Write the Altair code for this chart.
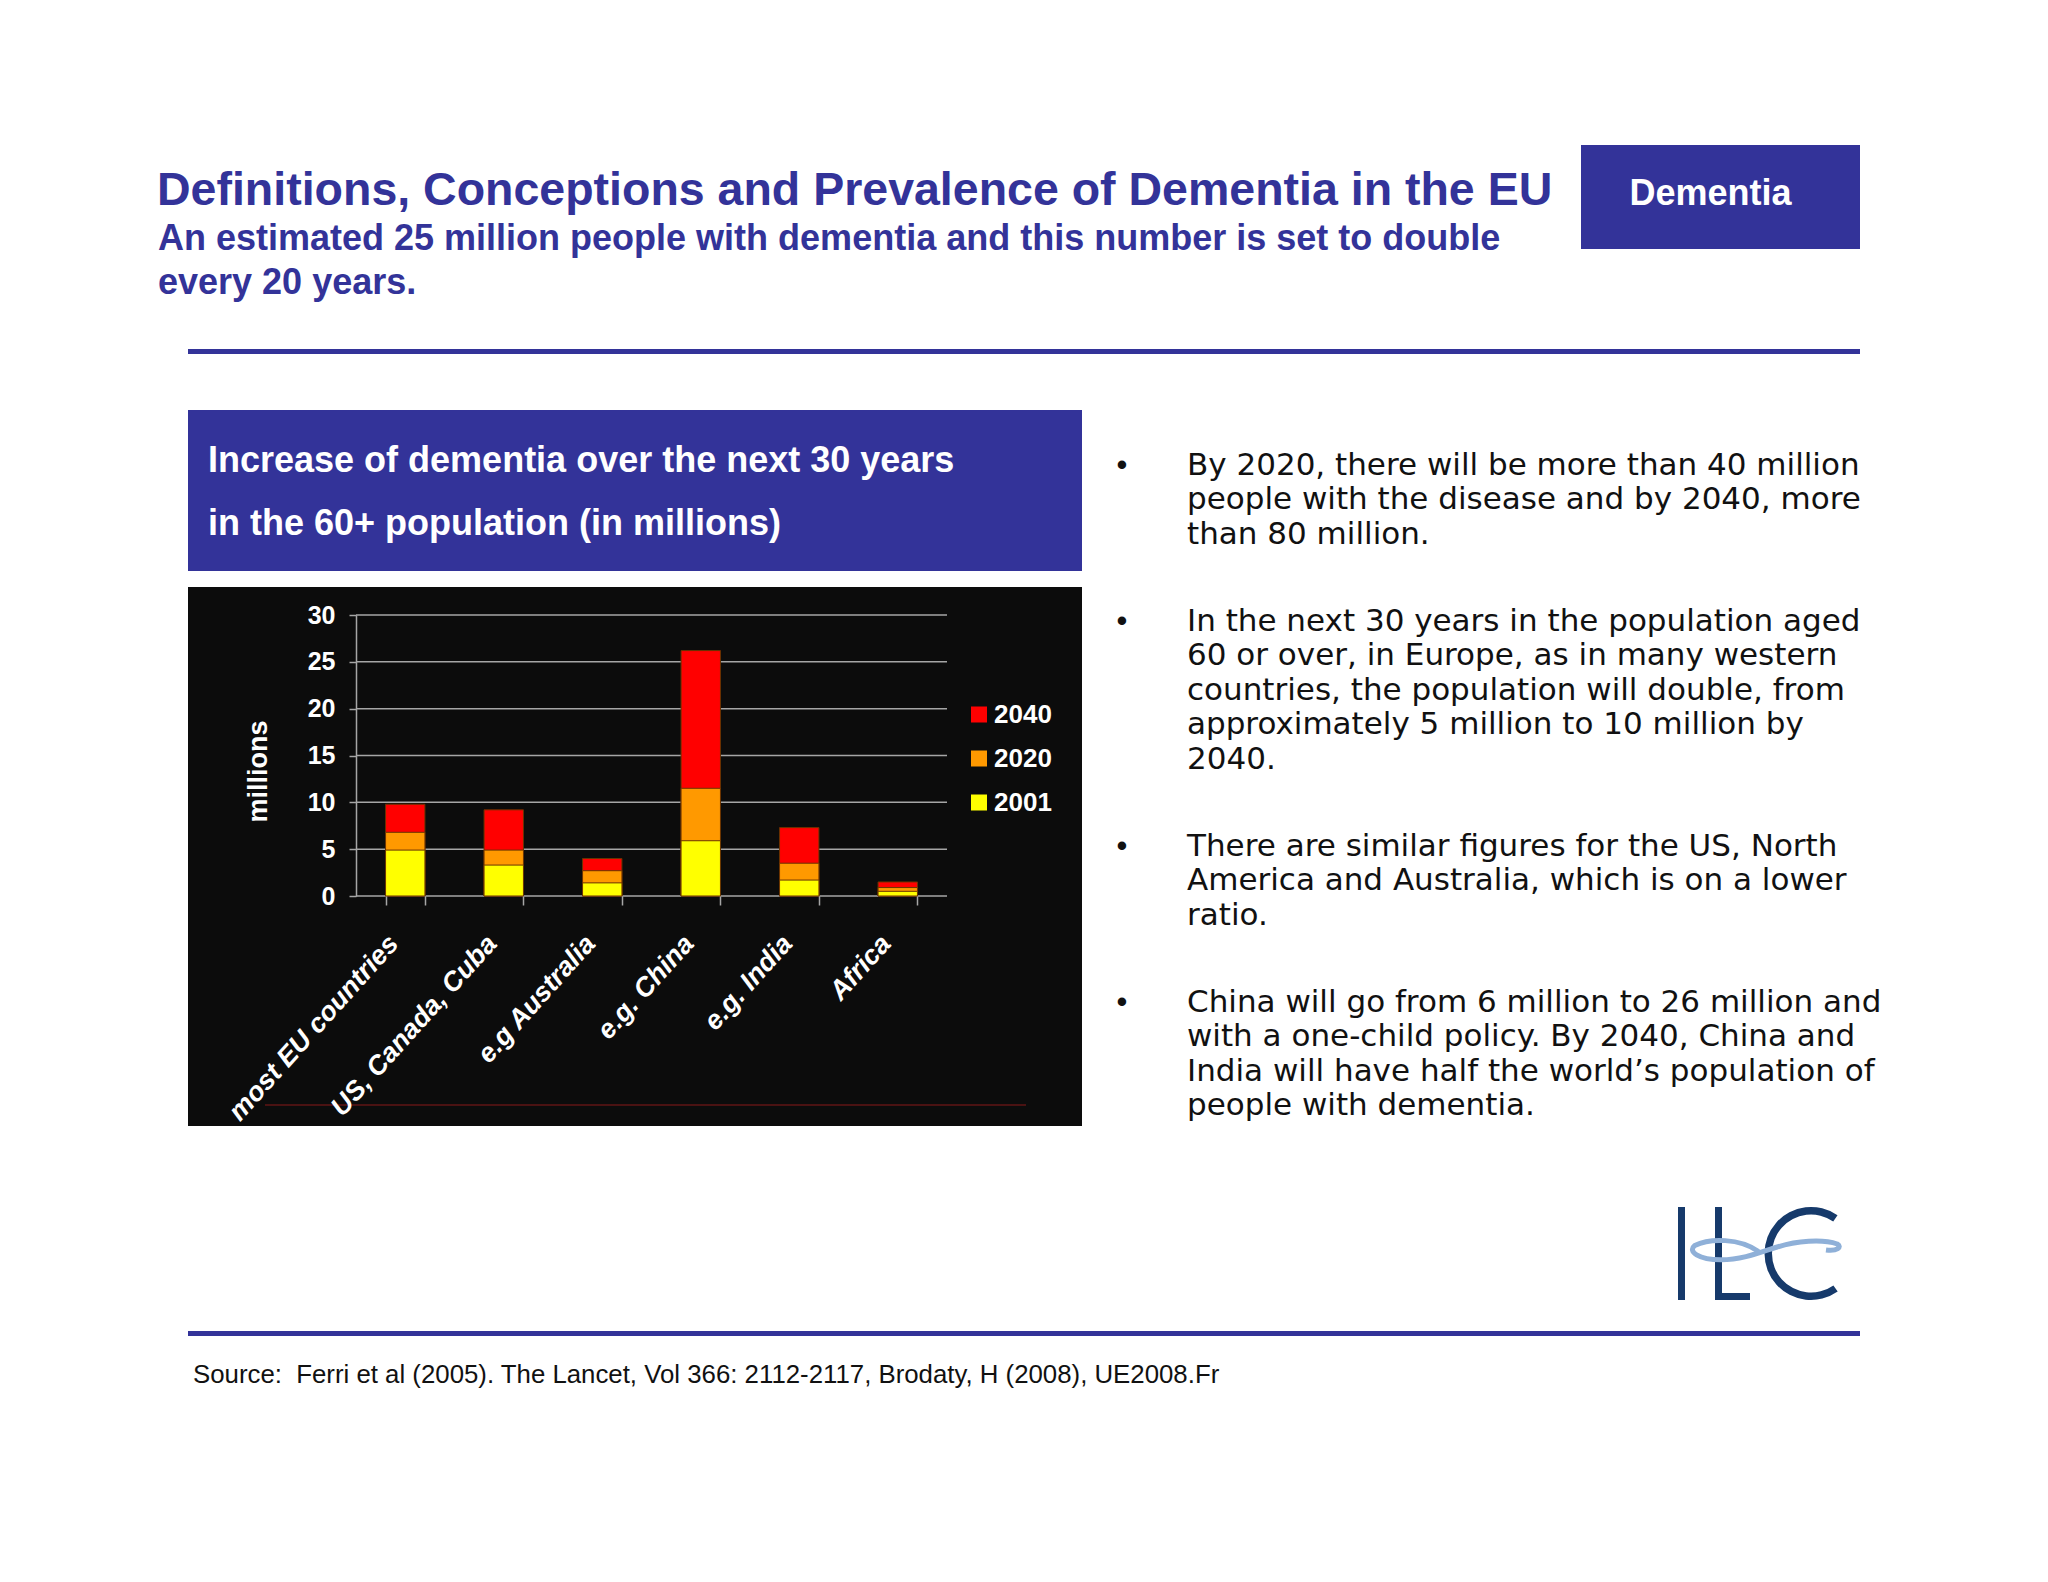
import altair as alt
import pandas as pd

# ---------------- data ----------------
categories = ["most EU countries", "US, Canada, Cuba", "e.g Australia",
              "e.g. China", "e.g. India", "Africa"]
years = ["2040", "2020", "2001"]
v2040 = [9.8, 9.2, 4.0, 26.2, 7.3, 1.5]
v2020 = [6.8, 4.9, 2.7, 11.5, 3.5, 0.9]
v2001 = [4.9, 3.3, 1.4, 5.9, 1.7, 0.5]
year_colors = ["#ff0000", "#ff9900", "#ffff00"]
y_ticks = [0, 5, 10, 15, 20, 25, 30]

title = "Definitions, Conceptions and Prevalence of Dementia in the EU"
subtitle = "An estimated 25 million people with dementia and this number is set to double\nevery 20 years."
box_title = "Increase of dementia over the next 30 years\nin the 60+ population (in millions)"
tag = "Dementia"
bullets = [
    "By 2020, there will be more than 40 million\npeople with the disease and by 2040, more\nthan 80 million.",
    "In the next 30 years in the population aged\n60 or over, in Europe, as in many western\ncountries, the population will double, from\napproximately 5 million to 10 million by\n2040.",
    "There are similar figures for the US, North\nAmerica and Australia, which is on a lower\nratio.",
    "China will go from 6 million to 26 million and\nwith a one-child policy. By 2040, China and\nIndia will have half the world\u2019s population of\npeople with dementia.",
]
source = "Source:\u00a0\u00a0Ferri et al (2005). The Lancet, Vol 366: 2112-2117, Brodaty, H (2008), UE2008.Fr"

rows = []
for yr, vals in zip(years, [v2040, v2020, v2001]):
    for c, v in zip(categories, vals):
        rows.append({"category": c, "year": yr, "value": v})
df = pd.DataFrame(rows)
grid_df = pd.DataFrame({"value": y_ticks})

# ---------------- layout helpers ----------------
OX, OY = 356, 615          # plot origin on the page (page coords)
PW, PH = 591, 281          # plot area size
BLUE = "#333399"
GRID = "#a6a6a6"
SANS = "Liberation Sans, Arial, Helvetica, sans-serif"
BODY = "DejaVu Sans, Liberation Sans, sans-serif"

one = pd.DataFrame({"k": [1]})


def X(px):
    return px - OX


def Y(py):
    return py - OY


def rect(x1, y1, x2, y2, color):
    return alt.Chart(one).mark_rect(color=color).encode(
        x=alt.value(X(x1)), x2=alt.value(X(x2)),
        y=alt.value(Y(y1)), y2=alt.value(Y(y2)))


def text(s, x, y, size, color, weight="normal", font=SANS, align="left",
         line_height=None, style="normal"):
    kw = dict(fontSize=size, color=color, fontWeight=weight, font=font,
              align=align, baseline="alphabetic", fontStyle=style)
    if line_height:
        kw.update(lineBreak="\n", lineHeight=line_height)
    return alt.Chart(one).mark_text(**kw).encode(
        x=alt.value(X(x)), y=alt.value(Y(y)), text=alt.value(s))


def vrule(x, y1, y2, color, w):
    return alt.Chart(one).mark_rule(color=color, strokeWidth=w, strokeCap="butt").encode(
        x=alt.value(X(x)), y=alt.value(Y(y1)), y2=alt.value(Y(y2)))


def hrule(x1, x2, y, color, w):
    return alt.Chart(one).mark_rule(color=color, strokeWidth=w, strokeCap="butt").encode(
        x=alt.value(X(x1)), x2=alt.value(X(x2)), y=alt.value(Y(y)))


layers = []
# slide decorations
layers.append(text(title, 157, 205, 46.5, BLUE, "bold"))
layers.append(text(subtitle, 158, 250, 36, BLUE, "bold", line_height=44))
layers.append(rect(1581, 145, 1860, 249, BLUE))
layers.append(text(tag, 1710.5, 205, 36, "white", "bold", align="center"))
layers.append(rect(188, 349, 1860, 354, BLUE))
layers.append(rect(188, 1331, 1860, 1336, BLUE))
layers.append(text(source, 193, 1383, 25.8, "#111111"))

# chart box
layers.append(rect(188, 410, 1082, 571, BLUE))
layers.append(text(box_title, 208, 472, 36, "white", "bold", line_height=63))
layers.append(rect(188, 587, 1082, 1126, "#0c0c0c"))
layers.append(hrule(265, 1026, 1105, "#4a1212", 2))

# bullets
for b, y0 in zip(bullets, [475, 631, 856, 1012]):
    layers.append(text("\u2022", 1122, y0, 31, "#111111", align="center"))
    layers.append(text(b, 1187, y0, 31, "#111111", font=BODY, line_height=34.4))

# ILC logo
NAVY = "#163a6b"
layers.append(vrule(1681.5, 1207, 1300, NAVY, 7))
layers.append(vrule(1718.5, 1207, 1300, NAVY, 7))
layers.append(hrule(1715, 1750, 1296.5, NAVY, 7))
layers.append(
    alt.Chart(one).mark_arc(color=NAVY, innerRadius=39, outerRadius=46.5,
                            theta=2.53, theta2=6.89).encode(
        x=alt.value(X(1811)), y=alt.value(Y(1253.5))))
swoosh = ("M-0.1,0.02 C-0.35,-0.16 -0.75,-0.16 -0.95,-0.06 C-1.05,0.02 -0.9,0.13 -0.6,0.13 "
          "C-0.3,0.13 -0.05,0.02 0.15,-0.04 C0.4,-0.12 0.75,-0.15 0.95,-0.08 "
          "C1.02,-0.04 0.95,0.02 0.8,0.0")
layers.append(
    alt.Chart(one).mark_point(shape=swoosh, size=150 * 150, filled=False,
                              stroke="#8fb0d8", strokeWidth=5, opacity=1).encode(
        x=alt.value(X(1766)), y=alt.value(Y(1250))))

# gridlines (behind bars)
layers.append(
    alt.Chart(grid_df).mark_rule(color=GRID, strokeWidth=1.5).encode(
        y=alt.Y("value:Q", scale=alt.Scale(domain=[0, 30], nice=False)),
        x=alt.value(0), x2=alt.value(PW)))

bars = alt.Chart(df).mark_bar(stroke="#6a3300", strokeWidth=1).encode(
    x=alt.X("category:N", sort=categories,
            scale=alt.Scale(paddingInner=0.6, paddingOuter=0.3),
            axis=alt.Axis(title=None, domain=False, tickBand="extent",
                          tickColor=GRID, tickSize=9, tickWidth=1.5,
                          labelAngle=312, labelAlign="right", labelBaseline="middle",
                          labelFont=SANS, labelFontStyle="italic", labelFontWeight="bold",
                          labelFontSize=27, labelColor="white", labelPadding=34,
                          labelOffset=-12,
                          labelLimit=500, labelOverlap=False, zindex=1)),
    y=alt.Y("value:Q", stack=None, scale=alt.Scale(domain=[0, 30], nice=False),
            axis=alt.Axis(values=y_ticks, grid=False, domainColor=GRID, domainWidth=1.5,
                          tickColor=GRID, tickSize=7, tickWidth=1.5,
                          labelColor="white", labelFont=SANS, labelFontWeight="bold",
                          labelFontSize=25, labelPadding=14,
                          title="millions", titleColor="white", titleFont=SANS,
                          titleFontWeight="bold", titleFontSize=27, titleAngle=270,
                          titleX=-90, titleY=156, titleAlign="center",
                          titleBaseline="alphabetic", zindex=1)),
    color=alt.Color("year:N", scale=alt.Scale(domain=years, range=year_colors),
                    legend=alt.Legend(title=None, orient="none", legendX=610, legendY=86.5,
                                      direction="vertical", symbolType="square",
                                      symbolSize=256, symbolStrokeWidth=0, padding=0,
                                      labelColor="white", labelFont=SANS,
                                      labelFontWeight="bold", labelFontSize=26,
                                      labelOffset=2, rowPadding=18, zindex=1)),
)
layers.append(bars)

chart = alt.layer(*layers).properties(
    width=PW, height=PH,
    padding={"left": OX - 8, "top": OY - 8, "right": 2032 - (OX - 8) - PW,
             "bottom": 1530 - (OY - 8) - PH},
    autosize=alt.AutoSizeParams(type="none"),
).configure_view(stroke=None)

chart.save("out.html", embed_options={"renderer": "svg", "actions": False})
